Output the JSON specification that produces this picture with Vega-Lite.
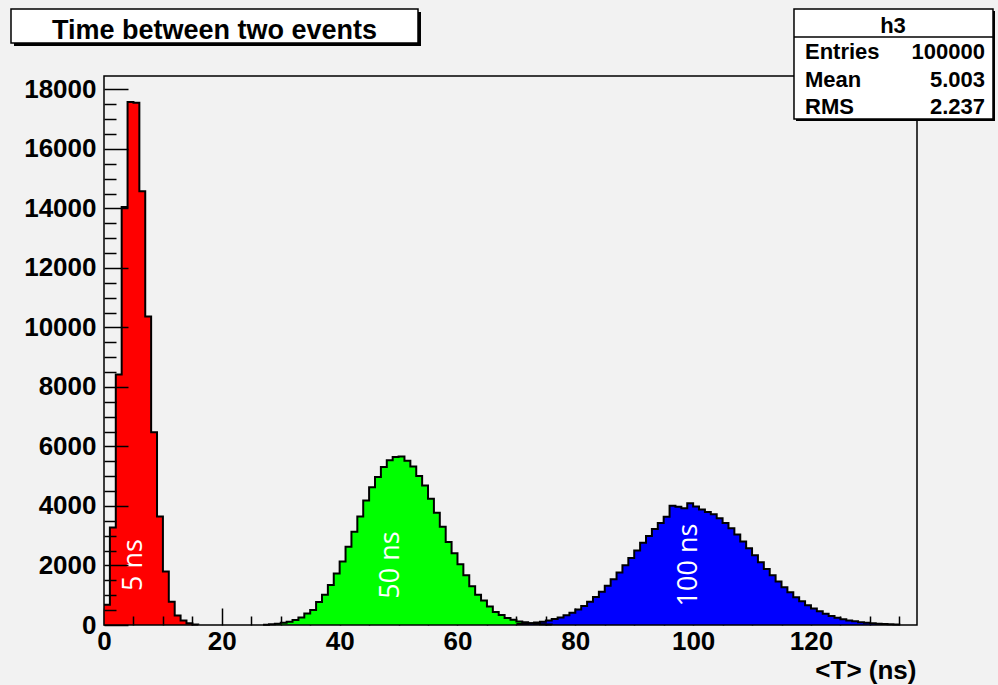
{
  "$schema": "https://vega.github.io/schema/vega-lite/v6.json",
  "width": 813,
  "height": 549,
  "autosize": {"type": "none"},
  "padding": {"left": 104, "top": 76, "right": 81, "bottom": 60},
  "background": "#f2f2f2",
  "config": {"view": {"stroke": null}, "axis": {"grid": false}},
  "datasets": {
    "hist": [
      {"h":"5 ns","t":0,"n":680},{"h":"5 ns","t":1,"n":3280},{"h":"5 ns","t":2,"n":8420},{"h":"5 ns","t":3,"n":14050},{"h":"5 ns","t":4,"n":17580},{"h":"5 ns","t":5,"n":17550},{"h":"5 ns","t":6,"n":14580},{"h":"5 ns","t":7,"n":10370},{"h":"5 ns","t":8,"n":6480},{"h":"5 ns","t":9,"n":3650},{"h":"5 ns","t":10,"n":1800},{"h":"5 ns","t":11,"n":780},{"h":"5 ns","t":12,"n":320},{"h":"5 ns","t":13,"n":150},{"h":"5 ns","t":14,"n":55},{"h":"5 ns","t":15,"n":18},{"h":"5 ns","t":16,"n":5},
      {"h":"50 ns","t":27,"n":12},{"h":"50 ns","t":28,"n":25},{"h":"50 ns","t":29,"n":45},{"h":"50 ns","t":30,"n":75},{"h":"50 ns","t":31,"n":112},{"h":"50 ns","t":32,"n":170},{"h":"50 ns","t":33,"n":250},{"h":"50 ns","t":34,"n":390},{"h":"50 ns","t":35,"n":500},{"h":"50 ns","t":36,"n":770},{"h":"50 ns","t":37,"n":1015},{"h":"50 ns","t":38,"n":1344},{"h":"50 ns","t":39,"n":1730},{"h":"50 ns","t":40,"n":2135},{"h":"50 ns","t":41,"n":2630},{"h":"50 ns","t":42,"n":3130},{"h":"50 ns","t":43,"n":3650},{"h":"50 ns","t":44,"n":4180},{"h":"50 ns","t":45,"n":4630},{"h":"50 ns","t":46,"n":4970},{"h":"50 ns","t":47,"n":5310},{"h":"50 ns","t":48,"n":5540},{"h":"50 ns","t":49,"n":5650},{"h":"50 ns","t":50,"n":5660},{"h":"50 ns","t":51,"n":5520},{"h":"50 ns","t":52,"n":5330},{"h":"50 ns","t":53,"n":5010},{"h":"50 ns","t":54,"n":4690},{"h":"50 ns","t":55,"n":4240},{"h":"50 ns","t":56,"n":3770},{"h":"50 ns","t":57,"n":3300},{"h":"50 ns","t":58,"n":2790},{"h":"50 ns","t":59,"n":2410},{"h":"50 ns","t":60,"n":2040},{"h":"50 ns","t":61,"n":1670},{"h":"50 ns","t":62,"n":1300},{"h":"50 ns","t":63,"n":1020},{"h":"50 ns","t":64,"n":820},{"h":"50 ns","t":65,"n":620},{"h":"50 ns","t":66,"n":440},{"h":"50 ns","t":67,"n":340},{"h":"50 ns","t":68,"n":235},{"h":"50 ns","t":69,"n":175},{"h":"50 ns","t":70,"n":120},{"h":"50 ns","t":71,"n":90},{"h":"50 ns","t":72,"n":60},{"h":"50 ns","t":73,"n":40},{"h":"50 ns","t":74,"n":28},{"h":"50 ns","t":75,"n":18},{"h":"50 ns","t":76,"n":12},
      {"h":"100 ns","t":70,"n":30},{"h":"100 ns","t":71,"n":45},{"h":"100 ns","t":72,"n":62},{"h":"100 ns","t":73,"n":85},{"h":"100 ns","t":74,"n":112},{"h":"100 ns","t":75,"n":150},{"h":"100 ns","t":76,"n":198},{"h":"100 ns","t":77,"n":255},{"h":"100 ns","t":78,"n":330},{"h":"100 ns","t":79,"n":415},{"h":"100 ns","t":80,"n":520},{"h":"100 ns","t":81,"n":640},{"h":"100 ns","t":82,"n":785},{"h":"100 ns","t":83,"n":940},{"h":"100 ns","t":84,"n":1120},{"h":"100 ns","t":85,"n":1320},{"h":"100 ns","t":86,"n":1540},{"h":"100 ns","t":87,"n":1765},{"h":"100 ns","t":88,"n":2010},{"h":"100 ns","t":89,"n":2250},{"h":"100 ns","t":90,"n":2500},{"h":"100 ns","t":91,"n":2760},{"h":"100 ns","t":92,"n":2990},{"h":"100 ns","t":93,"n":3230},{"h":"100 ns","t":94,"n":3430},{"h":"100 ns","t":95,"n":3640},{"h":"100 ns","t":96,"n":4010},{"h":"100 ns","t":97,"n":3975},{"h":"100 ns","t":98,"n":3920},{"h":"100 ns","t":99,"n":4095},{"h":"100 ns","t":100,"n":3985},{"h":"100 ns","t":101,"n":3880},{"h":"100 ns","t":102,"n":3800},{"h":"100 ns","t":103,"n":3720},{"h":"100 ns","t":104,"n":3590},{"h":"100 ns","t":105,"n":3430},{"h":"100 ns","t":106,"n":3250},{"h":"100 ns","t":107,"n":3040},{"h":"100 ns","t":108,"n":2810},{"h":"100 ns","t":109,"n":2580},{"h":"100 ns","t":110,"n":2340},{"h":"100 ns","t":111,"n":2110},{"h":"100 ns","t":112,"n":1880},{"h":"100 ns","t":113,"n":1670},{"h":"100 ns","t":114,"n":1460},{"h":"100 ns","t":115,"n":1270},{"h":"100 ns","t":116,"n":1100},{"h":"100 ns","t":117,"n":935},{"h":"100 ns","t":118,"n":795},{"h":"100 ns","t":119,"n":665},{"h":"100 ns","t":120,"n":555},{"h":"100 ns","t":121,"n":460},{"h":"100 ns","t":122,"n":375},{"h":"100 ns","t":123,"n":305},{"h":"100 ns","t":124,"n":245},{"h":"100 ns","t":125,"n":195},{"h":"100 ns","t":126,"n":155},{"h":"100 ns","t":127,"n":122},{"h":"100 ns","t":128,"n":95},{"h":"100 ns","t":129,"n":75},{"h":"100 ns","t":130,"n":57},{"h":"100 ns","t":131,"n":44},{"h":"100 ns","t":132,"n":33},{"h":"100 ns","t":133,"n":25},{"h":"100 ns","t":134,"n":18},{"h":"100 ns","t":135,"n":13}
    ],
    "labels": [
      {"label": "5 ns", "x": 5.1, "y": 2016},
      {"label": "50 ns", "x": 48.7, "y": 2016},
      {"label": "100 ns", "x": 99.3, "y": 2016}
    ]
  },
  "resolve": {"axis": {"x": "independent", "y": "independent"}},
  "layer": [
    {
      "data": {"name": "hist"},
      "mark": {"type": "area", "interpolate": "step-after", "opacity": 1, "fillOpacity": 1},
      "encoding": {
        "x": {"field": "t", "type": "quantitative", "scale": {"domain": [0, 138]},
          "axis": {"orient": "bottom", "values": [0, 20, 40, 60, 80, 100, 120], "ticks": false, "domain": false, "grid": false, "format": "d",
            "labelFont": "Liberation Sans", "labelFontWeight": "bold", "labelFontSize": 26, "labelColor": "black", "labelPadding": 16, "labelBaseline": "middle", "labelFlush": false, "labelOverlap": false,
            "title": "<T> (ns)", "titleFont": "Liberation Sans", "titleFontWeight": "bold", "titleFontSize": 26, "titleColor": "black", "titleAnchor": "end", "titleAlign": "right", "titleX": 812, "titleY": 53, "titleBaseline": "alphabetic"}},
        "y": {"field": "n", "type": "quantitative", "stack": null, "scale": {"domain": [0, 18450]},
          "axis": {"orient": "left", "values": [0, 2000, 4000, 6000, 8000, 10000, 12000, 14000, 16000, 18000], "ticks": false, "domain": false, "grid": false, "format": "d",
            "labelFont": "Liberation Sans", "labelFontWeight": "bold", "labelFontSize": 26, "labelColor": "black", "labelPadding": 8, "labelBaseline": "middle", "labelFlush": false, "labelOverlap": false, "title": null}},
        "fill": {"field": "h", "type": "nominal", "scale": {"domain": ["5 ns", "50 ns", "100 ns"], "range": ["#ff0000", "#00ff00", "#0000ff"]}, "legend": null}
      }
    },
    {
      "data": {"name": "hist"},
      "mark": {"type": "line", "interpolate": "step-after", "color": "black", "strokeWidth": 2},
      "encoding": {
        "x": {"field": "t", "type": "quantitative", "scale": {"domain": [0, 138]},
          "axis": {"orient": "bottom", "values": [0, 20, 40, 60, 80, 100, 120], "labels": false, "domain": false, "grid": false, "ticks": true, "tickSize": -17, "tickColor": "black", "tickWidth": 1.5, "title": null, "zindex": 0}},
        "y": {"field": "n", "type": "quantitative", "scale": {"domain": [0, 18450]},
          "axis": {"orient": "left", "values": [0, 2000, 4000, 6000, 8000, 10000, 12000, 14000, 16000, 18000], "labels": false, "domain": false, "grid": false, "ticks": true, "tickSize": -24, "tickColor": "black", "tickWidth": 1.5, "title": null, "zindex": 1}},
        "detail": {"field": "h", "type": "nominal"}
      }
    },
    {
      "data": {"name": "labels"},
      "mark": {"type": "text", "angle": 270, "align": "center", "baseline": "middle", "color": "white", "font": "Open Sans", "fontSize": 27},
      "encoding": {
        "x": {"field": "x", "type": "quantitative", "scale": {"domain": [0, 138]},
          "axis": {"orient": "bottom", "values": [15, 25, 30, 35, 45, 50, 55, 65, 70, 75, 85, 90, 95, 105, 110, 115, 125, 130, 135], "labels": false, "domain": false, "grid": false, "ticks": true, "tickSize": -9, "tickColor": "black", "tickWidth": 1.5, "title": null, "zindex": 0}},
        "y": {"field": "y", "type": "quantitative", "scale": {"domain": [0, 18450]},
          "axis": {"orient": "left", "values": [500, 1000, 1500, 2500, 3000, 3500, 4500, 5000, 5500, 6500, 7000, 7500, 8500, 9000, 9500, 10500, 11000, 11500, 12500, 13000, 13500, 14500, 15000, 15500, 16500, 17000, 17500], "labels": false, "domain": false, "grid": false, "ticks": true, "tickSize": -12, "tickColor": "black", "tickWidth": 1.5, "title": null, "zindex": 1}},
        "text": {"field": "label"}
      }
    },
    {
      "data": {"values": [{}]},
      "mark": {"type": "rect", "filled": false, "color": "black", "strokeWidth": 1.5, "clip": false},
      "encoding": {
        "x": {"datum": 0, "type": "quantitative", "scale": {"domain": [0, 138]},
          "axis": {"orient": "bottom", "values": [5, 10], "labels": false, "domain": false, "grid": false, "ticks": true, "tickSize": -9, "tickColor": "black", "tickWidth": 1.5, "title": null, "zindex": 1}},
        "x2": {"datum": 138},
        "y": {"datum": 0, "type": "quantitative", "scale": {"domain": [0, 18450]}, "axis": null},
        "y2": {"datum": 18450}
      }
    },
    {
      "data": {"values": [{}]},
      "layer": [
        {
          "mark": {"type": "rect", "color": "black", "clip": false},
          "encoding": {
            "x": {"datum": -15.277, "type": "quantitative", "scale": {"domain": [0, 138]}, "axis": null},
            "x2": {"datum": 53.808},
            "y": {"datum": 20601, "type": "quantitative", "scale": {"domain": [0, 18450]}, "axis": null},
            "y2": {"datum": 19458}
          }
        },
        {
          "mark": {"type": "rect", "fill": "white", "stroke": "black", "strokeWidth": 1.5, "clip": false},
          "encoding": {
            "x": {"datum": -15.786, "type": "quantitative", "scale": {"domain": [0, 138]}, "axis": null},
            "x2": {"datum": 53.299},
            "y": {"datum": 20702, "type": "quantitative", "scale": {"domain": [0, 18450]}, "axis": null},
            "y2": {"datum": 19559}
          }
        },
        {
          "mark": {"type": "text", "text": "Time between two events", "align": "center", "baseline": "alphabetic", "font": "Liberation Sans", "fontWeight": "bold", "fontSize": 27, "color": "black", "clip": false},
          "encoding": {
            "x": {"datum": 18.757, "type": "quantitative", "scale": {"domain": [0, 138]}, "axis": null},
            "y": {"datum": 19691, "type": "quantitative", "scale": {"domain": [0, 18450]}, "axis": null}
          }
        },
        {
          "mark": {"type": "rect", "color": "black", "clip": false},
          "encoding": {
            "x": {"datum": 117.46, "type": "quantitative", "scale": {"domain": [0, 138]}, "axis": null},
            "x2": {"datum": 151.24},
            "y": {"datum": 20635, "type": "quantitative", "scale": {"domain": [0, 18450]}, "axis": null},
            "y2": {"datum": 16938}
          }
        },
        {
          "mark": {"type": "rect", "fill": "white", "stroke": "black", "strokeWidth": 1.5, "clip": false},
          "encoding": {
            "x": {"datum": 117.12, "type": "quantitative", "scale": {"domain": [0, 138]}, "axis": null},
            "x2": {"datum": 150.9},
            "y": {"datum": 20702, "type": "quantitative", "scale": {"domain": [0, 18450]}, "axis": null},
            "y2": {"datum": 17005}
          }
        },
        {
          "mark": {"type": "rule", "color": "black", "strokeWidth": 1.5, "clip": false},
          "encoding": {
            "x": {"datum": 117.12, "type": "quantitative", "scale": {"domain": [0, 138]}, "axis": null},
            "x2": {"datum": 150.9},
            "y": {"datum": 19761, "type": "quantitative", "scale": {"domain": [0, 18450]}, "axis": null}
          }
        },
        {
          "mark": {"type": "text", "text": "h3", "align": "center", "baseline": "alphabetic", "font": "Liberation Sans", "fontWeight": "bold", "fontSize": 22, "color": "black", "clip": false},
          "encoding": {
            "x": {"datum": 133.93, "type": "quantitative", "scale": {"domain": [0, 138]}, "axis": null},
            "y": {"datum": 19906, "type": "quantitative", "scale": {"domain": [0, 18450]}, "axis": null}
          }
        },
        {
          "mark": {"type": "text", "text": ["Entries", "Mean", "RMS"], "lineHeight": 27.3, "align": "left", "baseline": "alphabetic", "font": "Liberation Sans", "fontWeight": "bold", "fontSize": 22, "color": "black", "clip": false},
          "encoding": {
            "x": {"datum": 118.99, "type": "quantitative", "scale": {"domain": [0, 138]}, "axis": null},
            "y": {"datum": 19012, "type": "quantitative", "scale": {"domain": [0, 18450]}, "axis": null}
          }
        },
        {
          "mark": {"type": "text", "text": ["100000", "5.003", "2.237"], "lineHeight": 27.3, "align": "right", "baseline": "alphabetic", "font": "Liberation Sans", "fontWeight": "bold", "fontSize": 22, "color": "black", "clip": false},
          "encoding": {
            "x": {"datum": 149.54, "type": "quantitative", "scale": {"domain": [0, 138]}, "axis": null},
            "y": {"datum": 19012, "type": "quantitative", "scale": {"domain": [0, 18450]}, "axis": null}
          }
        }
      ]
    }
  ]
}
